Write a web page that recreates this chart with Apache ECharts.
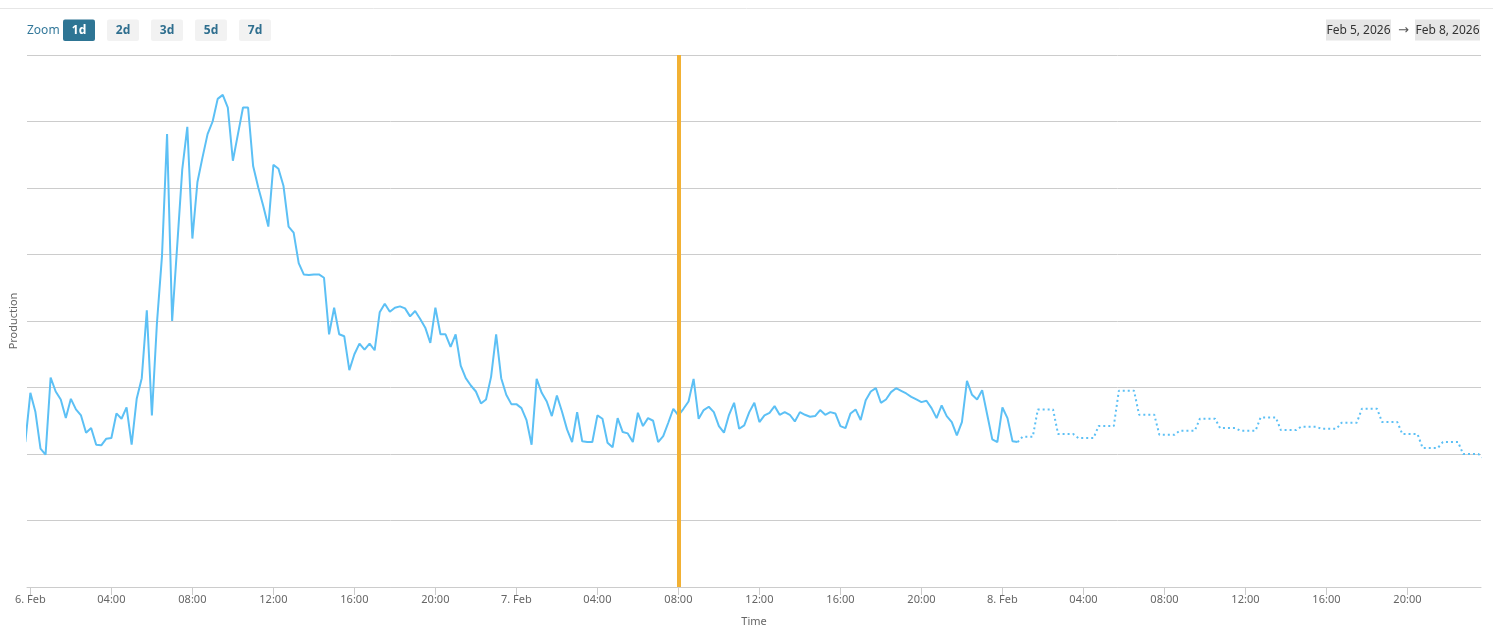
<!DOCTYPE html>
<html>
<head>
<meta charset="utf-8">
<script src="https://cdn.jsdelivr.net/npm/echarts@6/dist/echarts.min.js"></script>
<style>
html,body{margin:0;padding:0;background:#fff;}
#chart{width:1493px;height:635px;}
</style>
</head>
<body>
<div id="chart"></div>
<script>
// ---- Data (15-minute production values) ----
// measured series starts Feb 5 23:45, one value every 15 minutes
const measuredValues = [
  2.18,
  2.92, 2.63, 2.08, 1.99, 3.15, 2.94, 2.82, 2.54, 2.83, 2.67, 2.58, 2.32,
  2.39, 2.14, 2.13, 2.23, 2.24, 2.61, 2.53, 2.70, 2.14, 2.83, 3.14, 4.16,
  2.58, 3.97, 4.98, 6.81, 4.00, 5.13, 6.28, 6.92, 5.24, 6.09, 6.46, 6.81,
  7.00, 7.34, 7.40, 7.21, 6.41, 6.81, 7.21, 7.21, 6.33, 6.01, 5.73, 5.42,
  6.35, 6.29, 6.03, 5.42, 5.33, 4.87, 4.70, 4.69, 4.70, 4.70, 4.65, 3.80,
  4.20, 3.80, 3.77, 3.26, 3.50, 3.66, 3.57, 3.66, 3.56, 4.13, 4.26, 4.14,
  4.20, 4.22, 4.19, 4.07, 4.15, 4.03, 3.90, 3.67, 4.20, 3.80, 3.80, 3.61,
  3.80, 3.33, 3.14, 3.03, 2.94, 2.76, 2.82, 3.16, 3.80, 3.14, 2.89, 2.75,
  2.75, 2.69, 2.51, 2.14, 3.13, 2.92, 2.79, 2.57, 2.88, 2.64, 2.37, 2.18,
  2.63, 2.19, 2.18, 2.18, 2.58, 2.53, 2.17, 2.10, 2.54, 2.33, 2.31, 2.18,
  2.62, 2.42, 2.54, 2.50, 2.18, 2.27, 2.47, 2.68, 2.58, 2.68, 2.79, 3.13,
  2.53, 2.66, 2.71, 2.63, 2.42, 2.32, 2.59, 2.77, 2.38, 2.43, 2.63, 2.77,
  2.48, 2.58, 2.62, 2.72, 2.59, 2.63, 2.59, 2.49, 2.63, 2.59, 2.56, 2.57,
  2.66, 2.59, 2.63, 2.61, 2.42, 2.39, 2.61, 2.67, 2.51, 2.81, 2.94, 2.99,
  2.77, 2.82, 2.93, 2.99, 2.95, 2.91, 2.86, 2.82, 2.78, 2.80, 2.69, 2.54,
  2.73, 2.57, 2.48, 2.28, 2.48, 3.10, 2.89, 2.82, 2.96, 2.59, 2.22, 2.18,
  2.70, 2.54, 2.19, 2.18
];
// forecast series starts Feb 8 00:45, one value every 15 minutes
const forecastValues = [
  2.18,
  2.26, 2.26, 2.26,
  2.67, 2.67, 2.67, 2.67,
  2.30, 2.30, 2.30, 2.30,
  2.24, 2.24, 2.24, 2.24,
  2.42, 2.42, 2.42, 2.42,
  2.95, 2.95, 2.95, 2.95,
  2.59, 2.59, 2.59, 2.59,
  2.29, 2.29, 2.29, 2.29,
  2.35, 2.35, 2.35, 2.35,
  2.53, 2.53, 2.53, 2.53,
  2.39, 2.39, 2.39, 2.39,
  2.35, 2.35, 2.35, 2.35,
  2.55, 2.55, 2.55, 2.55,
  2.36, 2.36, 2.36, 2.36,
  2.41, 2.41, 2.41, 2.41,
  2.38, 2.38, 2.38, 2.38,
  2.47, 2.47, 2.47, 2.47,
  2.68, 2.68, 2.68, 2.68,
  2.48, 2.48, 2.48, 2.48,
  2.30, 2.30, 2.30, 2.30,
  2.09, 2.09, 2.09, 2.09,
  2.18, 2.18, 2.18, 2.18,
  2.00, 2.00, 2.00, 2.00,
  1.94
];
const tickLabels = [
  '6. Feb', '04:00', '08:00', '12:00', '16:00', '20:00',
  '7. Feb', '04:00', '08:00', '12:00', '16:00', '20:00',
  '8. Feb', '04:00', '08:00', '12:00', '16:00', '20:00'
];
const zoomButtons = ['1d', '2d', '3d', '5d', '7d'];
const rangeFrom = 'Feb 5, 2026';
const rangeTo = 'Feb 8, 2026';

// ---- Times ----
const Q = 15 * 60 * 1000, H = 3600 * 1000;
const measuredStart = new Date(2026, 1, 5, 23, 45).getTime();
const forecastStart = new Date(2026, 1, 8, 0, 45).getTime();
const tickStart = new Date(2026, 1, 6, 0, 0).getTime();
const nowMark = new Date(2026, 1, 7, 8, 0).getTime();
const axisMin = new Date(2026, 1, 5, 23, 50).getTime();
const axisMax = new Date(2026, 1, 8, 23, 38).getTime();

const measured = measuredValues.map((v, i) => [measuredStart + i * Q, v]);
const forecast = forecastValues.map((v, i) => [forecastStart + i * Q, v]);
const tickValues = tickLabels.map((_, i) => tickStart + i * 4 * H);
const labelMap = {};
tickValues.forEach((t, i) => { labelMap[t] = tickLabels[i]; });

const FONT = '"Noto Sans", "Open Sans", sans-serif';

// ---- Header graphics ----
const graphics = [];
graphics.push({ type: 'line', shape: { x1: 0, y1: 8.5, x2: 1493, y2: 8.5 }, style: { stroke: '#e6e6e6', lineWidth: 1 }, silent: true });
graphics.push({ type: 'text', x: 27, y: 31, style: { text: 'Zoom', fill: '#33789a', font: '12px ' + FONT, textVerticalAlign: 'middle', verticalAlign: 'middle' } });
zoomButtons.forEach((b, i) => {
  const x = 63 + i * 44;
  const sel = i === 0;
  graphics.push({ type: 'rect', shape: { x: x, y: 19.5, width: 32, height: 21.5, r: 2 }, style: { fill: sel ? '#2e7594' : '#f2f2f2' } });
  graphics.push({ type: 'text', x: x + 16, y: 31, style: { text: b, fill: sel ? '#ffffff' : '#2f6f8f', font: 'bold 12px ' + FONT, textAlign: 'center', align: 'center', textVerticalAlign: 'middle', verticalAlign: 'middle' } });
});
graphics.push({ type: 'rect', shape: { x: 1326, y: 19.5, width: 65, height: 21 }, style: { fill: '#e6e6e6' } });
graphics.push({ type: 'text', x: 1358.5, y: 31, style: { text: rangeFrom, fill: '#333333', font: '12px ' + FONT, textAlign: 'center', align: 'center', textVerticalAlign: 'middle', verticalAlign: 'middle' } });
graphics.push({ type: 'text', x: 1403.5, y: 30.5, style: { text: '→', fill: '#555555', font: '13px "DejaVu Sans", sans-serif', textAlign: 'center', align: 'center', textVerticalAlign: 'middle', verticalAlign: 'middle' } });
graphics.push({ type: 'rect', shape: { x: 1415, y: 19.5, width: 65, height: 21 }, style: { fill: '#e6e6e6' } });
graphics.push({ type: 'text', x: 1447.5, y: 31, style: { text: rangeTo, fill: '#333333', font: '12px ' + FONT, textAlign: 'center', align: 'center', textVerticalAlign: 'middle', verticalAlign: 'middle' } });

const chart = echarts.init(document.getElementById('chart'), null, { renderer: 'canvas' });
chart.setOption({
  animation: false,
  backgroundColor: '#ffffff',
  textStyle: { fontFamily: FONT },
  grid: { left: 27, right: 12, top: 55, bottom: 48, containLabel: false, outerBoundsMode: 'none' },
  graphic: graphics,
  xAxis: {
    type: 'value',
    min: axisMin,
    max: axisMax,
    name: 'Time',
    nameLocation: 'middle',
    nameGap: 29,
    nameTextStyle: { color: '#666666', fontSize: 11, fontFamily: FONT },
    axisLine: { show: true, lineStyle: { color: '#cccccc', width: 1 } },
    axisTick: { show: true, length: 8, lineStyle: { color: '#cccccc' }, customValues: tickValues },
    axisLabel: {
      color: '#666666', fontSize: 11, fontFamily: FONT, margin: 7,
      customValues: tickValues,
      formatter: v => labelMap[v] || ''
    },
    splitLine: { show: false }
  },
  yAxis: {
    type: 'value',
    min: 0, max: 8, interval: 1,
    name: 'Production',
    nameLocation: 'middle',
    nameGap: 8,
    nameTextStyle: { color: '#666666', fontSize: 11, fontFamily: FONT },
    axisLine: { show: false },
    axisTick: { show: false },
    axisLabel: { show: false },
    splitLine: { show: true, lineStyle: { color: '#cccccc', width: 1 } }
  },
  series: [
    {
      name: 'Production',
      type: 'line',
      data: measured,
      showSymbol: false,
      symbol: 'none',
      lineStyle: { color: '#5cc0f5', width: 2 },
      z: 3,
      markLine: {
        silent: true,
        symbol: ['none', 'none'],
        label: { show: false },
        lineStyle: { color: '#f2b134', width: 4, type: 'solid' },
        data: [{ xAxis: nowMark }],
        z: 5
      }
    },
    {
      name: 'Forecast',
      type: 'line',
      data: forecast,
      showSymbol: false,
      symbol: 'none',
      lineStyle: { color: '#5cc0f5', width: 2, type: [2, 3] },
      z: 3
    }
  ]
});
</script>
</body>
</html>
